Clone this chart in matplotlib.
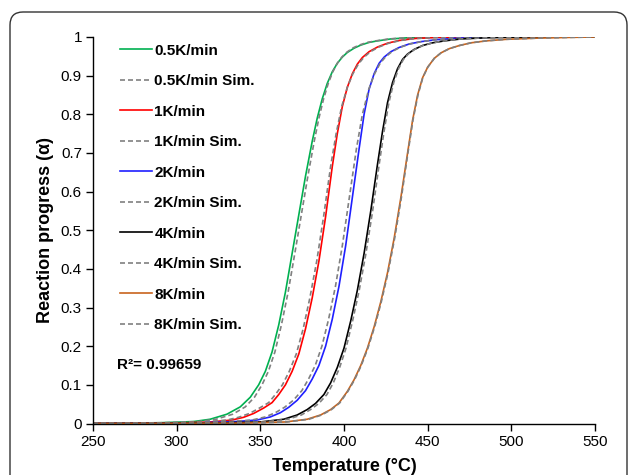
import matplotlib
matplotlib.use("Agg")
import matplotlib.pyplot as plt
from matplotlib.patches import FancyBboxPatch
from matplotlib.transforms import IdentityTransform

plt.rcParams['font.family'] = ['Liberation Sans', 'DejaVu Sans']

# heating rate runs: experiment (solid) and simulation (dashed)
t_05 = [250, 290, 310, 320, 330, 338, 344, 349, 353, 357, 361, 365, 369, 373, 377, 381, 384, 387, 390, 393, 396, 399, 402, 406, 410, 415, 420, 428, 438, 450, 470, 550]
a_05 = [0, 0.002, 0.005, 0.011, 0.024, 0.043, 0.068, 0.1, 0.135, 0.185, 0.255, 0.34, 0.44, 0.54, 0.64, 0.73, 0.79, 0.84, 0.88, 0.91, 0.932, 0.948, 0.96, 0.971, 0.979, 0.986, 0.99, 0.995, 0.998, 0.999, 1, 1]
t_05_sim = [250, 292, 313, 323.5, 333.5, 341, 346.5, 351, 354.8, 358.7, 362.6, 366.6, 370.6, 374.5, 378.4, 382.2, 385, 387.8, 390.6, 393.3, 396, 398.7, 401.5, 405, 409, 414, 419, 427, 437, 450, 470, 550]

t_1 = [250, 300, 320, 333, 340, 346, 352, 357, 361, 365, 369, 373, 377, 381, 385, 389, 393, 396, 399, 402, 405, 408, 411, 415, 420, 426, 433, 442, 455, 480, 550]
a_1 = [0, 0.001, 0.004, 0.009, 0.016, 0.026, 0.04, 0.054, 0.075, 0.1, 0.135, 0.18, 0.245, 0.325, 0.42, 0.535, 0.665, 0.75, 0.82, 0.87, 0.905, 0.93, 0.947, 0.962, 0.974, 0.984, 0.991, 0.996, 0.999, 1, 1]
t_1_sim = [250, 297, 317, 330, 337, 343.5, 349.5, 355, 359, 363.2, 367.3, 371.5, 375.6, 379.6, 383.7, 387.8, 392, 395.3, 398.6, 402, 405.3, 408.6, 411.8, 415.8, 420.8, 426.8, 433.8, 442.5, 455, 480, 550]

t_2 = [250, 310, 335, 348, 356, 362, 367, 372, 377, 381, 385, 389, 393, 397, 401, 405, 409, 412, 415, 418, 421, 424, 428, 433, 439, 446, 455, 468, 490, 550]
a_2 = [0, 0.001, 0.005, 0.009, 0.017, 0.028, 0.042, 0.06, 0.085, 0.115, 0.15, 0.2, 0.27, 0.355, 0.46, 0.585, 0.71, 0.8, 0.865, 0.905, 0.932, 0.948, 0.962, 0.973, 0.982, 0.988, 0.993, 0.997, 1, 1]
t_2_sim = [250, 307, 332, 345, 353, 359, 364.5, 369.7, 374.8, 378.8, 382.8, 386.8, 390.8, 394.9, 399, 403.2, 407.4, 411, 414.8, 418.3, 421.6, 424.7, 428.6, 433.4, 439.3, 446.2, 455, 468, 490, 550]

t_4 = [250, 320, 350, 364, 372, 378, 383, 388, 392, 396, 400, 404, 408, 412, 416, 420, 423, 426, 429, 432, 435, 438, 442, 447, 453, 460, 470, 485, 510, 550]
a_4 = [0, 0.001, 0.004, 0.011, 0.022, 0.036, 0.052, 0.075, 0.105, 0.145, 0.195, 0.265, 0.345, 0.44, 0.55, 0.67, 0.755, 0.83, 0.882, 0.918, 0.942, 0.956, 0.968, 0.978, 0.985, 0.99, 0.995, 0.998, 1, 1]
t_4_sim = [250, 322, 352, 366.5, 374.5, 380, 385, 389.8, 393.6, 397.4, 401.2, 405.1, 409.1, 413.1, 417.1, 421, 423.9, 426.8, 429.7, 432.6, 435.5, 438.4, 442.3, 447.2, 453, 460, 470, 485, 510, 550]

t_8 = [250, 340, 365, 378, 386, 392, 397, 402, 406, 410, 414, 418, 422, 426, 430, 434, 438, 441, 444, 447, 450, 454, 458, 463, 469, 476, 485, 497, 515, 535, 550]
a_8 = [0, 0.001, 0.004, 0.011, 0.022, 0.036, 0.053, 0.083, 0.113, 0.15, 0.195, 0.25, 0.315, 0.39, 0.48, 0.585, 0.7, 0.785, 0.85, 0.895, 0.922, 0.945, 0.959, 0.97, 0.978, 0.985, 0.99, 0.994, 0.997, 0.999, 1]
t_8_sim = [250, 341, 366, 379, 386.6, 392.5, 397.4, 402.3, 406.3, 410.3, 414.3, 418.3, 422.3, 426.3, 430.3, 434.3, 438.2, 441.2, 444.2, 447.1, 450.1, 454, 458, 463, 469, 476, 485, 497, 515, 535, 550]

rates = ['0.5K/min', '1K/min', '2K/min', '4K/min', '8K/min']
colors = ['#00B050', '#FF0000', '#1F1FFF', '#000000', '#C8641E']
exp_t = [t_05, t_1, t_2, t_4, t_8]
exp_a = [a_05, a_1, a_2, a_4, a_8]
sim_t = [t_05_sim, t_1_sim, t_2_sim, t_4_sim, t_8_sim]

x_ticks = [250, 300, 350, 400, 450, 500, 550]
y_ticks = [0, 0.1, 0.2, 0.3, 0.4, 0.5, 0.6, 0.7, 0.8, 0.9, 1]
y_ticklabels = ['0', '0.1', '0.2', '0.3', '0.4', '0.5', '0.6', '0.7', '0.8', '0.9', '1']

fig = plt.figure(figsize=(6.29, 4.75), dpi=100)
ax = fig.add_axes([93 / 629, 51.5 / 475, 502 / 629, 386.5 / 475])

for name, col, tx, ay, ts in zip(rates, colors, exp_t, exp_a, sim_t):
    ax.plot(tx, ay, color=col, lw=1.2, label=name)
    ax.plot(ts, ay, color='#808080', lw=1.2, dashes=(3, 1.8), label=name + ' Sim.')

ax.set_xlim(250, 550)
ax.set_ylim(0, 1)
ax.set_xticks(x_ticks)
ax.set_yticks(y_ticks)
ax.set_yticklabels(y_ticklabels)
ax.tick_params(direction='out', length=5, width=1, labelsize=11, colors='black', pad=3)
for s in ['top', 'right']:
    ax.spines[s].set_visible(False)
for s in ['left', 'bottom']:
    ax.spines[s].set_linewidth(1)

ax.set_xlabel('Temperature (°C)', fontsize=13, fontweight='bold')
ax.xaxis.set_label_coords(0.5, -0.09)
ax.set_ylabel('Reaction progress (α)', fontsize=13, fontweight='bold', labelpad=5)

leg = ax.legend(loc='upper left', bbox_to_anchor=(0.054, 0.983), frameon=False,
                prop={'weight': 'bold', 'size': 11}, handlelength=2.1,
                handletextpad=0.15, labelspacing=1.08, borderpad=0, borderaxespad=0)

ax.text(0.048, 0.151, 'R²= 0.99659', transform=ax.transAxes, fontsize=11,
        fontweight='bold', va='center', ha='left')

border = FancyBboxPatch((10, -30), 617, 463 + 30, boxstyle='round,pad=0,rounding_size=13',
                        transform=IdentityTransform(), fill=False, edgecolor='#333333', lw=1)
fig.add_artist(border)

fig.savefig('out.png', dpi=100)
